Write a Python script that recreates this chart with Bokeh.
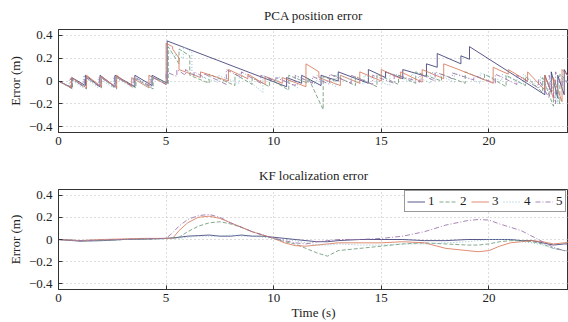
from bokeh.plotting import figure
from bokeh.layouts import column
from bokeh.models import Range1d, FixedTicker, CustomJSTickFormatter, Legend, LegendItem
from bokeh.embed import file_html
from bokeh.resources import INLINE

# ---------------- data ----------------
SERIES = ["1", "2", "3", "4", "5"]
COLORS = ["#3c3c78", "#6f9a78", "#d9795a", "#7fb6c9", "#9a6fa8"]
DASHES = ["solid", "4 2", "solid", "1 2", "5 2 1 2"]

X_TICKS = [0, 5, 10, 15, 20]
Y_TICKS = [-0.4, -0.2, 0, 0.2, 0.4]

# PCA position error (sawtooth vertices)
PCA_T1 = [0,0.62,0.62,1.25,1.25,1.93,1.93,2.63,2.63,3.55,3.55,4.35,4.35,5.05,5.05,10.6,10.6,11.3,11.3,12.2,12.2,13.0,13.0,14.4,14.4,15.2,15.2,16.0,16.0,17.1,17.1,17.6,17.6,18.7,18.7,19.1,19.1,22.6,22.6,22.9,22.9,23.2,23.2,23.5,23.5,23.8]
PCA_Y1 = [0,-0.06,0.03,-0.04,0.05,-0.05,0.05,-0.05,0.05,-0.05,0.05,-0.04,0.05,-0.02,0.35,-0.05,0.03,-0.02,0.05,-0.04,0.05,0.0,0.08,-0.02,0.1,0.03,0.08,0.02,0.1,0.04,0.15,0.12,0.24,0.15,0.22,0.19,0.3,-0.12,0.05,-0.1,0.08,-0.15,0.05,-0.12,0.1,0.0]

PCA_T2 = [0,0.65,0.65,1.3,1.3,2.0,2.0,2.7,2.7,3.6,3.6,4.4,4.4,5.1,5.1,5.6,5.6,6.1,6.1,7.0,7.0,8.2,8.2,9.0,9.0,9.8,9.8,10.7,10.7,11.6,11.6,12.3,12.3,12.8,12.8,13.8,13.8,14.8,14.8,15.8,15.8,16.6,16.6,17.8,17.8,18.9,18.9,19.8,19.8,20.8,20.8,21.7,21.7,22.5,22.5,23.0,23.0,23.3,23.3,23.8]
PCA_Y2 = [0,-0.07,0.02,-0.07,0.03,-0.06,0.03,-0.07,0.03,-0.06,0.02,-0.07,0.03,-0.02,0.3,0.15,0.28,0.22,0.05,-0.02,0.06,-0.04,0.06,-0.03,0.03,-0.05,0.02,-0.08,0.05,-0.02,0.03,-0.25,0.04,0.0,0.05,-0.04,0.04,-0.05,0.06,-0.03,0.05,-0.02,0.08,0.0,0.06,-0.02,0.08,0.01,0.06,-0.05,0.05,-0.04,0.04,-0.1,0.03,-0.22,0.0,-0.2,0.06,-0.03]

PCA_T3 = [0,0.6,0.6,1.3,1.3,2.0,2.0,2.7,2.7,3.4,3.4,4.2,4.2,5.0,5.0,5.3,5.3,5.6,5.6,6.6,6.6,7.9,7.9,8.8,8.8,9.6,9.6,10.4,10.4,11.5,11.5,12.1,12.1,13.1,13.1,14.0,14.0,15.0,15.0,15.9,15.9,16.9,16.9,17.9,17.9,18.6,18.6,20.2,20.2,20.9,20.9,21.8,21.8,22.6,22.6,23.0,23.0,23.4,23.4,23.8]
PCA_Y3 = [0,-0.06,0.03,-0.06,0.05,-0.05,0.04,-0.06,0.05,-0.05,0.03,-0.06,0.05,-0.03,0.33,0.3,0.28,0.2,0.1,0.03,0.08,0.0,0.1,0.02,0.06,-0.03,0.04,-0.02,0.03,-0.05,0.15,0.08,0.03,-0.04,0.05,-0.02,0.08,0.0,0.1,0.02,0.08,-0.01,0.1,0.02,0.15,0.1,0.1,-0.02,0.12,0.06,0.1,0.0,0.08,-0.08,0.05,-0.15,0.03,-0.18,0.1,0.02]

PCA_T4 = [0,0.5,0.5,1.15,1.15,1.85,1.85,2.55,2.55,3.45,3.45,4.25,4.25,5.1,5.1,5.8,5.8,6.2,6.2,7.4,7.4,8.4,8.4,9.5,9.5,10.2,10.2,11.1,11.1,12.0,12.0,12.9,12.9,14.2,14.2,15.4,15.4,16.4,16.4,17.3,17.3,18.4,18.4,19.6,19.6,20.6,20.6,21.6,21.6,22.4,22.4,22.9,22.9,23.2,23.2,23.8]
PCA_Y4 = [0,-0.05,0.02,-0.06,0.04,-0.06,0.03,-0.06,0.04,-0.06,0.03,-0.06,0.04,-0.03,0.25,0.2,0.3,0.25,0.06,-0.01,0.05,-0.02,0.07,-0.1,0.05,0.0,0.04,-0.06,0.04,-0.03,0.05,-0.05,0.06,-0.03,0.05,-0.04,0.07,-0.01,0.06,-0.02,0.08,-0.01,0.07,-0.02,0.07,0.0,0.06,-0.03,0.06,-0.06,0.04,-0.12,0.0,-0.2,0.05,-0.04]

PCA_T5 = [0,0.55,0.55,1.2,1.2,1.9,1.9,2.6,2.6,3.5,3.5,4.3,4.3,5.0,5.0,5.5,5.5,5.9,5.9,6.3,6.3,6.8,6.8,7.8,7.8,8.5,8.5,9.4,9.4,10.1,10.1,11.0,11.0,11.8,11.8,12.6,12.6,13.6,13.6,14.6,14.6,15.6,15.6,16.8,16.8,17.5,17.5,18.3,18.3,19.3,19.3,20.3,20.3,21.3,21.3,22.3,22.3,22.8,22.8,23.1,23.1,23.4,23.4,23.8]
PCA_Y5 = [0,-0.05,0.02,-0.05,0.04,-0.05,0.04,-0.05,0.04,-0.05,0.04,-0.05,0.04,-0.03,0.08,0.04,0.1,0.05,0.1,0.05,0.08,0.03,0.06,-0.03,0.1,0.03,0.08,-0.02,0.05,0.0,0.03,-0.04,0.05,-0.02,0.04,-0.03,0.06,-0.02,0.05,-0.03,0.05,-0.02,0.06,-0.01,0.06,0.0,0.08,0.02,0.07,0.01,0.05,-0.02,0.06,-0.03,0.05,-0.06,0.02,-0.15,0.05,-0.2,0.08,-0.05,0.02,-0.03]

# KF localization error
KF_T = [0,1,2,3,4,5,5.3,5.6,6,6.5,7,7.5,8,8.5,9,9.5,10,10.5,11,11.5,12,12.5,13,14,15,16,17,18,19,19.5,20,20.5,21,21.5,22,22.5,23,23.5,23.8]
KF_1 = [0,-0.015,-0.01,0.0,0.005,0.01,0.015,0.02,0.03,0.035,0.04,0.03,0.03,0.04,0.03,0.03,0.02,0.01,0.0,-0.01,-0.02,-0.02,-0.01,0.0,0.0,0.0,-0.01,-0.01,0.0,0.0,0.0,0.0,0.0,-0.01,-0.01,-0.03,-0.05,-0.04,-0.04]
KF_2 = [0,-0.01,-0.01,0.0,0.0,0.01,0.01,0.02,0.07,0.12,0.15,0.16,0.14,0.11,0.07,0.04,0.01,-0.02,-0.04,-0.08,-0.12,-0.15,-0.1,-0.08,-0.06,-0.04,-0.03,-0.04,-0.05,-0.05,-0.04,-0.02,-0.01,-0.01,-0.02,-0.04,-0.08,-0.1,-0.1]
KF_3 = [0,-0.01,0.0,0.005,0.01,0.01,0.01,0.08,0.15,0.2,0.21,0.19,0.15,0.11,0.07,0.04,0.01,-0.03,-0.055,-0.06,-0.05,-0.04,-0.03,-0.03,-0.03,-0.02,-0.03,-0.08,-0.1,-0.11,-0.1,-0.06,-0.03,-0.02,-0.01,-0.02,-0.04,-0.03,-0.02]
KF_4 = [0,-0.01,-0.005,0.0,0.005,0.005,0.01,0.01,0.02,0.03,0.03,0.03,0.04,0.03,0.03,0.02,0.01,0.0,-0.01,-0.03,-0.05,-0.05,-0.04,-0.05,-0.05,-0.04,-0.04,-0.03,-0.02,-0.01,0.0,0.0,0.0,-0.02,-0.03,-0.05,-0.08,-0.1,-0.1]
KF_5 = [0,-0.01,-0.005,0.0,0.005,0.01,0.06,0.12,0.18,0.215,0.225,0.2,0.15,0.11,0.07,0.04,0.01,-0.01,-0.03,-0.04,-0.02,-0.01,0.0,0.0,0.01,0.03,0.07,0.13,0.17,0.18,0.175,0.14,0.11,0.08,0.03,-0.02,-0.07,-0.1,-0.11]

PCA = [(PCA_T1, PCA_Y1), (PCA_T2, PCA_Y2), (PCA_T3, PCA_Y3), (PCA_T4, PCA_Y4), (PCA_T5, PCA_Y5)]
KF = [KF_1, KF_2, KF_3, KF_4, KF_5]

FONT = "Liberation Serif"
X_END = 23.7
INK = "#222222"


def style(p, title, xlabel=None):
    p.title.text = title
    p.title.align = "center"
    p.title.vertical_align = "middle"
    p.title.text_font = FONT
    p.title.text_font_size = "13px"
    p.title.text_font_style = "normal"
    p.title.text_color = INK
    p.title.offset = 5
    p.title.standoff = 11
    p.outline_line_color = "#333333"
    p.outline_line_width = 1
    p.background_fill_color = "white"
    p.border_fill_color = "white"
    xa = p.below[0]
    ya = p.left[0]
    for ax in (xa, ya):
        ax.axis_line_color = "#333333"
        ax.major_tick_line_color = "#333333"
        ax.major_tick_in = 4
        ax.major_tick_out = 0
        ax.minor_tick_line_color = None
        ax.major_label_text_font = FONT
        ax.major_label_text_font_size = "13px"
        ax.major_label_text_color = INK
        ax.axis_label_text_font = FONT
        ax.axis_label_text_font_size = "13px"
        ax.axis_label_text_font_style = "normal"
        ax.axis_label_text_color = INK
    xa.ticker = FixedTicker(ticks=X_TICKS)
    ya.ticker = FixedTicker(ticks=Y_TICKS)
    ya.formatter = CustomJSTickFormatter(code="""
        if (Math.abs(tick) < 1e-9) return "0";
        return tick.toFixed(1).replace("-", "\u2212");
    """)
    ya.axis_label = "Error (m)"
    ya.major_label_standoff = 6
    ya.axis_label_standoff = 3
    xa.major_label_standoff = 4
    if xlabel:
        xa.axis_label = xlabel
        xa.axis_label_standoff = 0
    for g in (p.xgrid[0], p.ygrid[0]):
        g.grid_line_color = "#bbbbbb"
        g.grid_line_dash = "1 3"
        g.grid_line_width = 1


# ---------------- top figure ----------------
p1 = figure(width=568, height=160, output_backend="svg", toolbar_location=None,
            x_range=Range1d(0, X_END), y_range=Range1d(-0.45, 0.45),
            min_border_left=58, min_border_right=0, min_border_top=29, min_border_bottom=28)
style(p1, "PCA position error")
for (t, y), c, d in zip(PCA, COLORS, DASHES):
    p1.line(t, y, line_color=c, line_dash=d, line_width=1, line_alpha=0.85)

# ---------------- bottom figure ----------------
p2 = figure(width=568, height=162, output_backend="svg", toolbar_location=None,
            x_range=Range1d(0, X_END), y_range=Range1d(-0.45, 0.45),
            min_border_left=58, min_border_right=0, min_border_top=29, min_border_bottom=31)
style(p2, "KF localization error", "Time (s)")
items = []
for name, ys, c, d in zip(SERIES, KF, COLORS, DASHES):
    r = p2.line(KF_T, ys, line_color=c, line_dash=d, line_width=1, line_alpha=0.85)
    items.append(LegendItem(label=name, renderers=[r]))
leg = Legend(items=items, orientation="horizontal", location=(346, 77),
             glyph_width=18, glyph_height=11, label_standoff=3, spacing=4,
             label_width=7, label_height=15,
             padding=2, margin=0, label_text_font=FONT, label_text_font_size="13px",
             label_text_color=INK,
             border_line_color="#333333", border_line_width=1,
             background_fill_color="white", background_fill_alpha=1)
p2.add_layout(leg)

lay = column(p1, p2, spacing=0)
open("out.html", "w").write(file_html(lay, INLINE))
